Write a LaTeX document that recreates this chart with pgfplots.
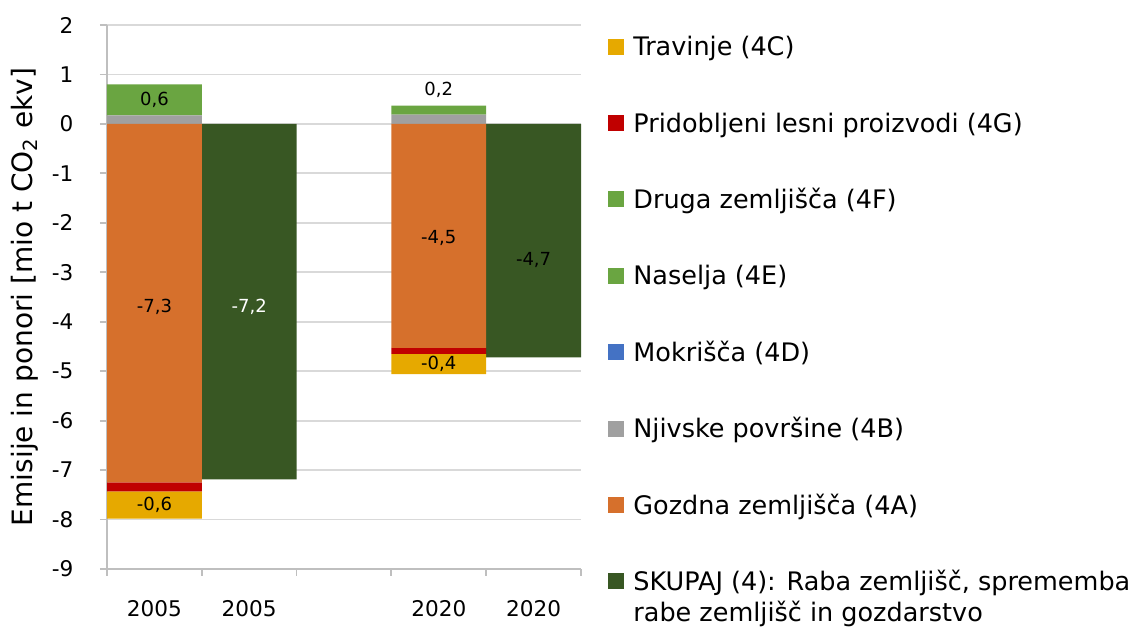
\documentclass[border=0pt]{standalone}
\usepackage{fontspec}
\setmainfont{DejaVu Sans}
\usepackage{pgfplots}
\usepackage{pgfplotstable}
\pgfplotsset{compat=1.18}
\definecolor{cTrav}{HTML}{E6A900}
\definecolor{cLes}{HTML}{C00000}
\definecolor{cDruga}{HTML}{6AA541}
\definecolor{cNas}{HTML}{6AA541}
\definecolor{cMok}{HTML}{4472C4}
\definecolor{cNjiv}{HTML}{A0A0A0}
\definecolor{cGozd}{HTML}{D6702C}
\definecolor{cSkup}{HTML}{385723}
\definecolor{cGrid}{HTML}{D9D9D9}
\definecolor{cAx}{HTML}{BFBFBF}

\pgfplotsset{
 common/.style={scale only axis, width=237pt, height=272pt, at={(53.5pt,30.5pt)}, anchor=south west,
   xmin=-0.5, xmax=4.5, ymin=-9, ymax=2},
 sq/.style={legend image code/.code={\fill[fill=#1, draw=none] (0pt,-4pt) rectangle (8pt,4pt);}},
}

% positive parts and totals
\pgfplotstableread{
x njiv mok nas druga skup
0 0.17 0 0 0.63 0
1 0 0 0 0 -7.19
3 0.19 0 0 0.18 0
4 0 0 0 0 -4.72
}\posdata
% negative parts
\pgfplotstableread{
x gozd les trav
0 -7.25 -0.18 -0.55
1 0 0 0
3 -4.53 -0.12 -0.41
4 0 0 0
}\negdata

\begin{document}
\fontsize{12.75}{15.5}\selectfont
\begin{tikzpicture}
\path[use as bounding box] (0,0) rectangle (574pt,315pt);
\begin{axis}[common, ybar stacked, bar width=1,
  axis lines*=left, axis line style={cAx, line width=0.9pt},
  ytick={-9,-8,...,2}, ymajorgrids, grid style={cGrid, line width=0.9pt},
  xtick={0,1,3,4}, xticklabels={2005,2005,2020,2020},
  minor xtick={-0.5,0.5,1.5,2.5,3.5,4.5},
  tick align=outside, major tick length=3.5pt, minor tick length=3.5pt,
  tick style={cAx, line width=0.9pt},
  major x tick style={draw=none},
  /pgf/number format/assume math mode=true,
  ticklabel style={font=\fontsize{10.8}{13}\selectfont},
  yticklabel style={xshift=-8.9pt},
  xticklabel style={yshift=-7.9pt},
  ylabel={Emisije in ponori [mio t CO\textsubscript{2} ekv]},
  ylabel style={at={(axis description cs:-0.173,0.5)}, anchor=center, font=\fontsize{14}{16}\selectfont},
  legend style={draw=none, fill=none, at={(1.057,0.978)}, anchor=north west, inner sep=0pt,
    row sep=29pt, column sep=4.5pt,
    nodes={inner sep=0pt, text height=9.2pt, text depth=0pt, font=\fontsize{12.75}{15.5}\selectfont},
    cells={anchor=west}},
  legend cell align=left,
]
\addplot[fill=cNjiv, draw=none, forget plot] table[x=x, y=njiv] {\posdata};
\addplot[fill=cMok, draw=none, forget plot] table[x=x, y=mok] {\posdata};
\addplot[fill=cNas, draw=none, forget plot] table[x=x, y=nas] {\posdata};
\addplot[fill=cDruga, draw=none, forget plot] table[x=x, y=druga] {\posdata};
\addplot[fill=cSkup, draw=none, forget plot] table[x=x, y=skup] {\posdata};
\addlegendimage{sq=cTrav, draw=none}\addlegendentry{Travinje (4C)}
\addlegendimage{sq=cLes, draw=none}\addlegendentry{Pridobljeni lesni proizvodi (4G)}
\addlegendimage{sq=cDruga, draw=none}\addlegendentry{Druga zemljišča (4F)}
\addlegendimage{sq=cNas, draw=none}\addlegendentry{Naselja (4E)}
\addlegendimage{sq=cMok, draw=none}\addlegendentry{Mokrišča (4D)}
\addlegendimage{sq=cNjiv, draw=none}\addlegendentry{Njivske površine (4B)}
\addlegendimage{sq=cGozd, draw=none}\addlegendentry{Gozdna zemljišča (4A)}
\addlegendimage{sq=cSkup, draw=none}\addlegendentry{\begin{tabular}[t]{@{}l@{}}SKUPAJ (4): Raba zemljišč, sprememba\\rabe zemljišč in gozdarstvo\end{tabular}}
\end{axis}
\begin{axis}[common, hide axis, ybar stacked, bar width=1]
\addplot[fill=cGozd, draw=none] table[x=x, y=gozd] {\negdata};
\addplot[fill=cLes, draw=none] table[x=x, y=les] {\negdata};
\addplot[fill=cTrav, draw=none] table[x=x, y=trav] {\negdata};
\end{axis}
\begin{axis}[common, hide axis,
  nodes near coords, point meta=explicit symbolic,
  every node near coord/.style={anchor=center, font=\fontsize{9}{11}\selectfont}]
\addplot[draw=none, mark=none] coordinates {(0,0.485) [0,6] (3,0.69) [0,2] (0,-3.7) [-7,3] (0,-7.70) [-0,6] (3,-2.3) [-4,5] (3,-4.86) [-0,4] (4,-2.75) [-4,7]};
\addplot[draw=none, mark=none, every node near coord/.append style={text=white}] coordinates {(1,-3.7) [-7,2]};
\end{axis}
\end{tikzpicture}
\end{document}
